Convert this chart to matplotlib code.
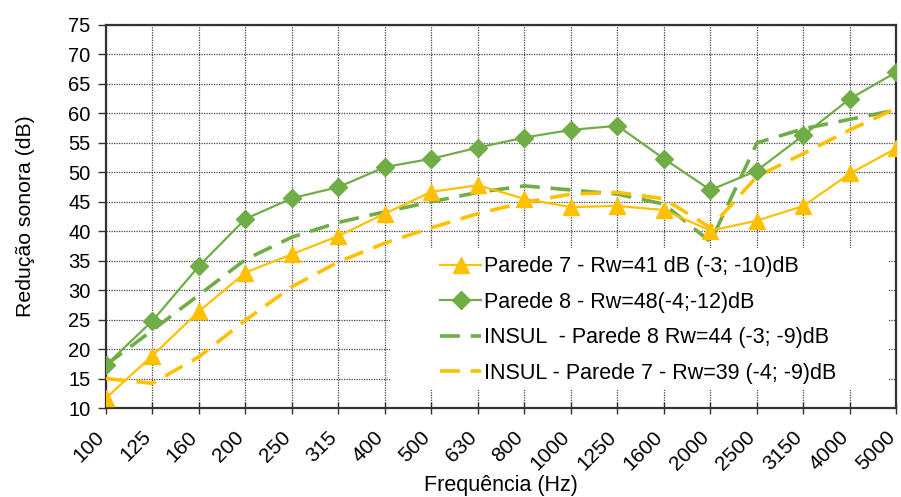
import matplotlib
matplotlib.use('Agg')

import matplotlib.pyplot as plt
import matplotlib.transforms as mtransforms
from matplotlib.patches import Rectangle

plt.rcParams['font.family'] = ['Liberation Sans', 'DejaVu Sans']

# dados
freqs = ['100', '125', '160', '200', '250', '315', '400', '500', '630', '800',
         '1000', '1250', '1600', '2000', '2500', '3150', '4000', '5000']
parede7 = [11.7, 18.9, 26.4, 33.0, 36.1, 39.2, 43.0, 46.7, 47.8, 45.5,
           44.1, 44.3, 43.6, 40.1, 41.8, 44.3, 49.8, 54.1]
parede8 = [17.3, 24.8, 34.1, 42.1, 45.6, 47.5, 50.9, 52.3, 54.2, 55.9,
           57.2, 57.9, 52.3, 47.0, 50.3, 56.3, 62.5, 67.0]
insul8 = [17.3, 23.2, 29.2, 35.2, 39.0, 41.5, 43.3, 45.0, 46.6, 47.7,
          47.0, 46.3, 44.6, 38.2, 55.0, 57.4, 59.0, 60.6]
insul7 = [15.0, 14.2, 18.7, 24.9, 30.6, 34.8, 38.0, 40.6, 43.0, 44.9,
          46.3, 46.6, 45.5, 40.6, 49.3, 53.2, 57.2, 60.9]

labels = ['Parede 7 - Rw=41 dB (-3; -10)dB',
          'Parede 8 - Rw=48(-4;-12)dB',
          'INSUL  - Parede 8 Rw=44 (-3; -9)dB',
          'INSUL - Parede 7 - Rw=39 (-4; -9)dB']

amarelo = '#FFC000'
verde = '#70AD47'

fig = plt.figure(figsize=(9.01, 4.97), dpi=100)
ax = fig.add_axes([0.1176, 0.179, 0.8774, 0.7707])

x = range(len(freqs))
ax.plot(x, parede7, color=amarelo, lw=1.6, marker='^', ms=11, label=labels[0], zorder=4)
ax.plot(x, parede8, color=verde, lw=1.6, marker='D', ms=9, label=labels[1], zorder=4)
ax.plot(x, insul8, color=verde, lw=2.6, ls=(0, (5.5, 3)), label=labels[2], zorder=3)
ax.plot(x, insul7, color=amarelo, lw=2.6, ls=(0, (5.5, 3)), label=labels[3], zorder=3)

ax.set_xlim(0, len(freqs) - 1)
ax.set_ylim(10, 75)
ax.set_yticks(range(10, 80, 5))
ax.set_xticks(list(x))
ax.set_xticklabels([])

# rótulos do eixo x escritos à mão, rodados 45°, um pouco à esquerda de cada traço
offset = mtransforms.ScaledTranslation(-0.045, -0.26, fig.dpi_scale_trans)
for i, f in enumerate(freqs):
    ax.text(i, 0, f, transform=ax.get_xaxis_transform() + offset, rotation=45,
            ha='right', va='center', rotation_mode='anchor', fontsize=15, clip_on=False)

ax.set_axisbelow(True)
ax.grid(True, color='#444444', lw=0.9, ls=(0, (1, 1)))
for s in ax.spines.values():
    s.set_color('#333333')
    s.set_linewidth(1.6)

ax.tick_params(axis='y', direction='out', length=6, width=1, colors='#333333',
               labelsize=14.5, labelcolor='black', pad=5)
ax.tick_params(axis='x', direction='inout', length=9, width=1, colors='#333333')

ax.set_xlabel('Frequência (Hz)', fontsize=15.5)
ax.xaxis.set_label_coords(0.5, -0.176)
ax.set_ylabel('Redução sonora (dB)', fontsize=15.3, labelpad=24)

# fundo branco da legenda, tapa a grelha
ax.add_patch(Rectangle((0.359, 0.047), 0.632, 0.371, transform=ax.transAxes,
                       facecolor='white', edgecolor='none', zorder=2))

leg = ax.legend(loc='upper left', bbox_to_anchor=(0.4037, 0.436), frameon=False,
                fontsize=15.5, handlelength=1.9, handletextpad=0.15, labelspacing=0.68,
                borderpad=0.2)
leg.set_zorder(5)

fig.savefig('out.png', dpi=100)
